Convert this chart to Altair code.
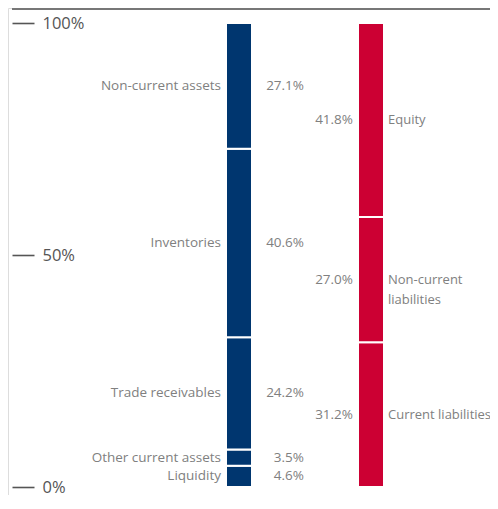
import altair as alt
import pandas as pd

# ---- data ----
sides = ["Assets"] * 5 + ["Liabilities"] * 3
items = ["Liquidity", "Other current assets", "Trade receivables", "Inventories", "Non-current assets",
         "Current liabilities", "Non-current\nliabilities", "Equity"]
values = [4.6, 3.5, 24.2, 40.6, 27.1,
          31.2, 27.0, 41.8]
pct_labels = ["4.6%", "3.5%", "24.2%", "40.6%", "27.1%",
              "31.2%", "27.0%", "41.8%"]
tick_values = [0, 50, 100]
tick_labels = ["0%", "50%", "100%"]
side_order = ["Assets", "Liabilities"]
side_colors = ["#00366f", "#cc0033"]

# stack within each side (bottom to top)
starts, ends = [], []
acc = {}
for s, v in zip(sides, values):
    a = acc.get(s, 0.0)
    starts.append(a)
    ends.append(a + v)
    acc[s] = a + v
df = pd.DataFrame({
    "side": sides, "item": items, "value": values, "pct": pct_labels,
    "start": starts, "end": ends,
})
df["mid"] = (df["start"] + df["end"]) / 2

label_expr = "{" + ",".join(f"'{v}':'{l}'" for v, l in zip(tick_values, tick_labels)) + "}[datum.value]"

W, H = 482, 487
FONT = "Open Sans"
GREY = "#808080"

xscale = alt.Scale(type="point", domain=side_order, range=[231, 363], padding=0)
yscale = alt.Scale(domain=[0, 100], range=[479, 15], nice=False, zero=False)
yaxis = alt.Axis(orient="left", offset=-26, values=tick_values,
                 labelExpr=label_expr, domain=False, grid=False,
                 tickSize=22, tickColor="#555555", tickWidth=1.6,
                 labelAlign="left", labelPadding=-30, labelFontSize=16.5,
                 labelColor="#555555", labelFont=FONT, title=None)

base = alt.Chart(df)

bars = base.mark_bar(size=26, stroke="white", strokeWidth=2).encode(
    x=alt.X("side:N", scale=xscale, axis=None),
    y=alt.Y("start:Q", scale=yscale, axis=yaxis),
    y2="end:Q",
    color=alt.Color("side:N", scale=alt.Scale(domain=side_order, range=side_colors), legend=None),
)

txt = dict(font=FONT, color=GREY, baseline="middle")


def text_layer(side, field, align, dx, size=13.5, **extra):
    return base.transform_filter(f"datum.side == '{side}'").mark_text(
        align=align, dx=dx, fontSize=size, **txt, **extra).encode(
        x=alt.X("side:N", scale=xscale, axis=None),
        y=alt.Y("mid:Q", scale=yscale, axis=yaxis),
        text=f"{field}:N")


asset_names = text_layer("Assets", "item", "right", -18)
asset_pct = text_layer("Assets", "pct", "right", 65)
liab_pct = text_layer("Liabilities", "pct", "right", -18)
liab_names = text_layer("Liabilities", "item", "left", 17, size=13, lineBreak="\n", lineHeight=20)

top_rule = alt.Chart(pd.DataFrame({"a": [0]})).mark_rule(color="#777777", strokeWidth=2).encode(
    x=alt.value(4), x2=alt.value(W), y=alt.value(1))

chart = alt.layer(bars, asset_names, asset_pct, liab_pct, liab_names, top_rule).properties(
    width=W, height=H, padding=0, autosize=alt.AutoSizeParams(type="none"),
).configure_view(strokeWidth=0, stroke="transparent").configure(background="white")

chart.save("out.html", embed_options={"renderer": "svg", "actions": False})
